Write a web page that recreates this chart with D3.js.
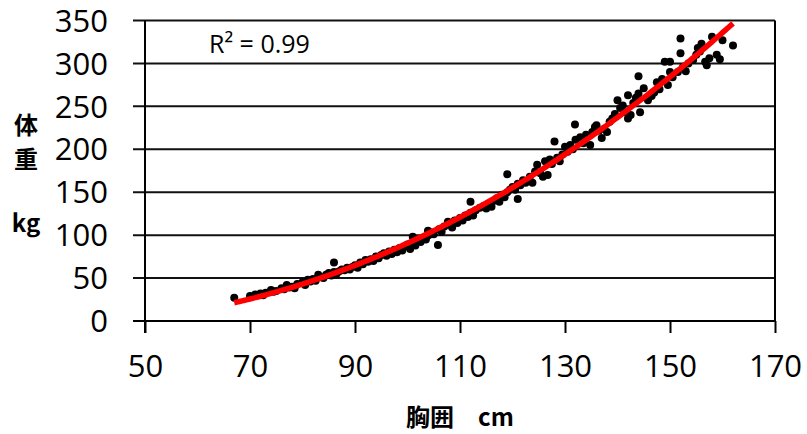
<!DOCTYPE html>
<html>
<head>
<meta charset="utf-8">
<script src="https://cdn.jsdelivr.net/npm/d3@7"></script>
<style>
  body { margin: 0; background: #fff; }
  text { font-family: "Open Sans", "Noto Sans", sans-serif; fill: #000; }
  .title { font-family: "Noto Sans CJK JP", "Noto Sans", sans-serif; font-weight: bold; }
</style>
</head>
<body>
<script>
// chest girth (cm) and body weight (kg)
var chest = [67, 70, 71, 72, 72.5, 73, 74, 74.5, 75, 76, 76.5, 77, 77.5, 78, 78.5, 79, 80, 80.5, 81, 81.5,
  82, 82.5, 83, 83.5, 84, 84.5, 85, 85.5, 86, 86, 86.5, 87, 87.5, 88, 88.5, 89, 89.5, 90, 90.5, 91,
  91.5, 92, 92.5, 93, 93.5, 94, 94.5, 95, 95.5, 96, 96.5, 97, 97.5, 98, 98.5, 99, 99.5, 100, 100.5, 101,
  101, 101.5, 102, 102.5, 103, 103.5, 103.9, 104, 104.5, 105, 105.8, 106, 106.5, 107, 107.7, 108, 108.5, 109, 109.5, 110,
  110.5, 111, 111.5, 112, 112, 112.5, 113, 113.8, 114.5, 115, 115.5, 116, 116.5, 117, 117.5, 118, 118.5, 119, 119, 119.5,
  120, 120.5, 121, 121, 121.5, 122, 122.5, 123.3, 123.8, 124.3, 124.7, 125.3, 125.8, 126.2, 126.7, 127.1, 127.5, 128, 128.5, 129,
  129.5, 130, 130.5, 131, 131.5, 131.9, 132, 132.9, 133.5, 134, 134.8, 135.2, 135.7, 136, 136.5, 137, 137.5, 138, 138.5, 139,
  139.5, 140, 140.5, 141, 141.5, 142, 142, 142.5, 143, 143.5, 144, 144, 144.3, 145, 145.8, 146.5, 147, 147.5, 148, 148.5,
  149, 149.6, 150, 150, 150.5, 151.5, 152, 152, 152.5, 153, 153.5, 154.4, 155, 155.3, 155.7, 156, 156.7, 157, 157.5, 158,
  158.9, 159.5, 160, 162]

var weight = [27, 29, 31, 32, 30, 33, 36, 34, 35, 38, 37, 42, 39, 40, 38, 43, 45, 42, 48, 46,
  49, 47, 54, 51, 50, 54, 56, 53, 68, 57, 55, 58, 60, 59, 62, 60, 63, 65, 62, 68,
  66, 71, 69, 72, 70, 75, 73, 77, 79, 76, 81, 78, 83, 80, 85, 82, 87, 89, 84, 98,
  91, 88, 94, 92, 97, 95, 105, 100, 103, 101, 88.5, 107, 104, 110, 115.6, 112, 109, 117, 114, 120,
  117, 123, 121, 139, 126, 123, 129, 132, 134, 131, 137, 133, 140, 143, 139, 147, 144, 171, 150, 153,
  156, 153, 142, 160, 158, 164, 161, 168, 161, 174, 182, 172, 168, 186, 170, 188, 183, 209, 190, 186,
  194, 203, 197, 205, 200, 229, 211, 214, 207, 217, 205, 220, 226, 228, 222, 213, 224, 220, 232, 236,
  241, 257, 248, 251, 243, 263, 236, 240, 254, 260, 285, 265, 243, 271, 257, 262, 266, 278, 270, 282,
  302, 275, 302, 290, 284, 290, 329, 312, 296, 291, 300, 304, 310, 318, 314, 323, 302, 298, 306, 331,
  310, 305, 327, 321]

var xTicks = [50, 70, 90, 110, 130, 150, 170]
var yTicks = [0, 50, 100, 150, 200, 250, 300, 350]
var yTitle = ['体', '重', 'kg']
var xTitle = '胸囲\u3000cm'
var r2Label = 'R² = 0.99'

var width = 807
var height = 434
var plot = {left: 145, right: 775, top: 20.5, bottom: 321}
var tickLen = 12

var x = d3.scaleLinear().domain([50, 170]).range([plot.left, plot.right])
var y = d3.scaleLinear().domain([0, 350]).range([plot.bottom, plot.top])

var points = chest.map((c, i) => ({c: c, w: weight[i]}))

// least squares 2nd order polynomial (like the spreadsheet trendline)
function quadFit(pts) {
  var s = [0, 0, 0, 0, 0], t = [0, 0, 0]
  pts.forEach(p => {
    for (var k = 0; k < 5; k++) s[k] += Math.pow(p.c, k)
    for (var k = 0; k < 3; k++) t[k] += Math.pow(p.c, k) * p.w
  })
  var m = [[s[0], s[1], s[2], t[0]], [s[1], s[2], s[3], t[1]], [s[2], s[3], s[4], t[2]]]
  for (var i = 0; i < 3; i++) {
    for (var j = i + 1; j < 3; j++) {
      var f = m[j][i] / m[i][i]
      for (var k = i; k < 4; k++) m[j][k] -= f * m[i][k]
    }
  }
  var co = [0, 0, 0]
  for (var i = 2; i >= 0; i--) {
    var v = m[i][3]
    for (var k = i + 1; k < 3; k++) v -= m[i][k] * co[k]
    co[i] = v / m[i][i]
  }
  return xv => co[0] + co[1] * xv + co[2] * xv * xv
}
var fit = quadFit(points)

var svg = d3.select('body').append('svg').attr('width', width).attr('height', height)

svg.append('defs').append('clipPath').attr('id', 'plotclip')
  .append('rect')
  .attr('x', plot.left).attr('y', plot.top)
  .attr('width', plot.right - plot.left).attr('height', plot.bottom - plot.top)

// horizontal gridlines, running out past the y axis as ticks
svg.append('g').selectAll('line')
  .data(yTicks)
  .join('line')
  .attr('x1', plot.left - tickLen).attr('x2', plot.right)
  .attr('y1', d => y(d)).attr('y2', d => y(d))
  .attr('stroke', '#111').attr('stroke-width', 2)

// y axis labels
svg.append('g').selectAll('text')
  .data(yTicks)
  .join('text')
  .attr('x', 108).attr('y', d => y(d))
  .attr('dy', '0.36em')
  .attr('text-anchor', 'end')
  .style('font-size', '31px')
  .text(d => d)

// y axis, right border and bottom axis
svg.append('line')
  .attr('x1', plot.left).attr('x2', plot.left)
  .attr('y1', plot.top).attr('y2', plot.bottom + tickLen)
  .attr('stroke', '#000').attr('stroke-width', 2)
svg.append('line')
  .attr('x1', plot.right).attr('x2', plot.right)
  .attr('y1', plot.top).attr('y2', plot.bottom)
  .attr('stroke', '#000').attr('stroke-width', 2)

var xAxis = d3.axisBottom(x)
  .tickValues(xTicks)
  .tickSize(tickLen)
  .tickPadding(22)
  .tickFormat(d3.format('d'))

var xg = svg.append('g')
  .attr('transform', `translate(0,${plot.bottom})`)
  .call(xAxis)
xg.select('.domain').remove()
xg.selectAll('.tick line').attr('stroke', '#000').attr('stroke-width', 2)
xg.selectAll('.tick text').style('font-size', '31px').style('font-family', '"Open Sans", sans-serif').attr('fill', '#000')
xg.append('line')
  .attr('x1', plot.left - tickLen).attr('x2', plot.right)
  .attr('y1', 0).attr('y2', 0)
  .attr('stroke', '#000').attr('stroke-width', 2)

// scatter points
svg.append('g').selectAll('circle')
  .data(points)
  .join('circle')
  .attr('cx', d => x(d.c))
  .attr('cy', d => y(d.w))
  .attr('r', 4)
  .attr('fill', '#000')

// trendline
var xs = d3.range(d3.min(chest), d3.max(chest) + 0.01, 0.5)
var line = d3.line()
  .x(d => x(d))
  .y(d => y(fit(d)))
svg.append('path')
  .attr('clip-path', 'url(#plotclip)')
  .attr('d', line(xs))
  .attr('fill', 'none')
  .attr('stroke', '#ff0000')
  .attr('stroke-width', 5.5)

svg.append('text')
  .attr('x', 209).attr('y', 53)
  .style('font-size', '25px')
  .text(r2Label)

// axis titles
svg.append('g').selectAll('text')
  .data(yTitle)
  .join('text')
  .attr('class', 'title')
  .attr('x', 26)
  .attr('y', (d, i) => [134, 168, 232][i])
  .attr('text-anchor', 'middle')
  .style('font-size', '24px')
  .text(d => d)

svg.append('text')
  .attr('class', 'title')
  .attr('x', 406).attr('y', 426)
  .style('font-size', '24px')
  .text(xTitle)
</script>
</body>
</html>
